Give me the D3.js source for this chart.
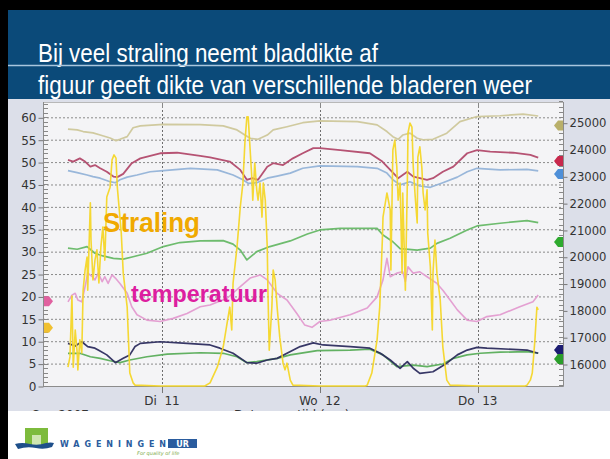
<!DOCTYPE html>
<html>
<head>
<meta charset="utf-8">
<script src="https://cdn.jsdelivr.net/npm/d3@7"></script>
<style>
  html, body { margin: 0; padding: 0; background: #fff; overflow: hidden; }
  svg { display: block; }
</style>
</head>
<body>
<svg id="chart" width="610" height="459"></svg>
<script>
// ---------- data (time in hours from Ma 10 sep 00:00) ----------
const dayTickHours = [24, 48, 72];
const dayTickNames = ["Di", "Wo", "Do"];
const dayTickDates = ["11", "12", "13"];

const leftTicks = [0, 5, 10, 15, 20, 25, 30, 35, 40, 45, 50, 55, 60];
const rightTicks = [16000, 17000, 18000, 19000, 20000, 21000, 22000, 23000, 24000, 25000];

// leaf thickness sensors (right axis)
const bladOlijf = [[9.7,24760],[11.1,24730],[12.0,24670],[13.5,24620],[14.6,24540],[16.1,24430],[17.0,24330],[17.6,24380],[18.7,24480],[19.6,24810],[20.7,24880],[24.2,24940],[29.8,24930],[33.3,24880],[35.4,24730],[36.6,24540],[37.4,24420],[38.6,24380],[40.0,24540],[40.9,24730],[43.0,24850],[45.4,25000],[48.0,25070],[53.7,25040],[56.7,24920],[58.2,24670],[59.1,24480],[59.9,24380],[60.6,24540],[61.7,24610],[62.8,24420],[63.7,24360],[65.2,24380],[67.3,24610],[69.3,25040],[71.9,25230],[75.4,25260],[78.9,25320],[81.2,25250]];
const bladRood = [[9.7,23610],[10.5,23550],[11.5,23670],[12.3,23550],[13.1,23360],[13.8,23420],[14.6,23300],[15.6,23170],[16.6,22990],[17.2,22970],[18.1,23090],[19.4,23490],[20.7,23670],[23.7,23860],[26.3,23880],[29.8,23760],[31.3,23710],[34.3,23550],[35.9,23240],[36.9,22870],[37.7,22930],[38.6,22870],[40.0,23360],[40.9,23490],[42.4,23420],[43.9,23670],[45.4,23860],[47.0,24050],[48.0,24050],[51.1,23980],[55.6,23860],[57.5,23550],[58.7,23240],[59.9,22930],[61.3,23170],[62.2,22990],[63.2,22930],[64.3,22870],[65.2,22930],[66.7,23170],[68.3,23360],[70.4,23860],[71.9,23980],[73.9,23920],[77.4,23880],[80.0,23800],[81.2,23700]];
const bladBlauw = [[9.7,23210],[11.1,23140],[12.6,23050],[13.5,22990],[14.6,22930],[16.1,22800],[16.9,22760],[17.6,22870],[18.7,22970],[20.2,23050],[22.2,23170],[24.2,23210],[28.3,23300],[32.4,23240],[34.8,23050],[36.3,22870],[37.1,22740],[38.4,22760],[40.0,22930],[41.5,23010],[43.5,23120],[45.4,23300],[48.0,23390],[53.7,23360],[56.7,23300],[58.2,23120],[59.1,22870],[60.2,22680],[61.7,22800],[63.2,22640],[64.8,22590],[66.7,22760],[68.9,22970],[70.4,23170],[71.9,23300],[75.4,23240],[79.5,23260],[81.2,23200]];
const bladGroen = [[9.7,20320],[11.1,20280],[12.6,20380],[13.8,20130],[15.0,20030],[16.6,19940],[18.1,19910],[19.6,20000],[21.7,20130],[24.2,20380],[26.7,20530],[29.8,20590],[33.3,20600],[34.8,20470],[35.9,20250],[36.9,19880],[38.4,20190],[40.4,20380],[43.5,20590],[46.1,20850],[48.0,21000],[51.1,21060],[56.7,21060],[57.6,20810],[59.1,20560],[60.2,20300],[62.8,20250],[64.8,20320],[65.8,20500],[67.8,20690],[70.4,21000],[71.9,21150],[75.4,21250],[79.5,21350],[81.2,21270]];
const bladDonker = [[9.7,16770],[10.8,16670],[11.8,16830],[12.7,16650],[13.8,16590],[14.3,16520],[15.6,16340],[16.9,16050],[18.1,16210],[19.1,16340],[19.9,16650],[20.7,16770],[23.7,16830],[27.8,16770],[31.3,16710],[32.8,16590],[34.8,16400],[36.9,16050],[38.4,16030],[40.0,16150],[41.5,16210],[43.0,16400],[45.0,16650],[47.0,16790],[48.5,16710],[52.6,16650],[55.6,16590],[57.2,16400],[58.7,16150],[60.2,15840],[61.3,16090],[62.2,15840],[63.2,15650],[65.2,15710],[67.3,16030],[68.9,16340],[70.4,16520],[71.9,16620],[73.4,16590],[79.5,16520],[81.2,16400]];
const bladLaagGroen = [[9.7,16400],[11.5,16400],[13.1,16270],[14.6,16210],[16.1,16120],[17.6,16050],[19.1,16150],[21.7,16270],[24.8,16370],[29.8,16420],[33.3,16400],[35.4,16270],[36.9,16050],[38.4,16090],[41.5,16210],[43.5,16340],[47.6,16500],[52.6,16520],[55.6,16550],[57.6,16340],[59.7,15900],[62.2,15960],[64.3,15900],[66.7,16000],[68.3,16210],[70.4,16340],[72.4,16400],[75.4,16440],[79.5,16460],[81.2,16400]];

// temperature (left axis)
const temperatuur = [[9.7,18.8],[10.3,20.3],[10.8,20.7],[11.2,19.2],[11.8,18.8],[12.3,22.2],[12.7,25.2],[13.4,24.4],[13.8,23.7],[14.3,25.2],[14.9,23.3],[15.3,24.4],[15.8,22.9],[16.4,24.8],[16.9,24.1],[17.6,22.9],[18.7,20.7],[19.4,17.7],[20.2,15.9],[21.7,14.7],[23.7,14.4],[25.7,15.1],[27.8,16.2],[29.8,17.7],[31.3,18.1],[33.9,19.6],[35.9,22.2],[37.4,24.1],[38.9,24.8],[40.0,23.7],[41.5,20.7],[43.0,19.2],[44.5,16.2],[45.7,13.6],[46.8,13.1],[48.0,14.4],[49.5,14.7],[52.6,15.9],[55.2,17.4],[56.7,19.9],[57.6,23.7],[58.2,28.5],[58.7,24.4],[59.7,25.2],[60.6,25.5],[61.0,23.3],[61.4,26.6],[62.2,25.2],[63.2,25.5],[64.3,24.4],[65.8,22.9],[66.7,21.4],[67.8,19.2],[68.9,17.0],[70.4,14.7],[71.9,14.4],[73.4,15.5],[75.4,15.9],[78.4,17.7],[80.4,18.8],[81.2,20.3]];

// radiation (left axis)
const straling = [[9.7,4.2],[10.0,6.5],[10.3,20.1],[10.5,4.2],[10.8,12.5],[11.1,7.4],[11.2,3.6],[11.5,10.3],[11.8,7.4],[12.0,21.4],[12.3,25.9],[12.6,28.8],[12.7,21.4],[13.1,40.9],[13.2,32.6],[13.5,23.7],[13.8,28.1],[14.1,30.4],[14.4,23.0],[14.7,31.0],[15.0,35.5],[15.3,28.1],[15.6,42.2],[16.1,44.4],[16.4,50.5],[16.7,51.6],[17.0,50.9],[17.2,44.4],[17.5,39.3],[17.8,34.2],[18.1,25.2],[18.7,17.6],[19.1,2.9],[19.6,0.7],[19.9,0.2],[23.7,0],[30.5,0],
  [31.3,0.7],[32.4,4.2],[33.3,8.7],[33.9,14.1],[34.3,17.6],[34.6,12.5],[34.8,23.0],[35.4,31.0],[35.9,40.0],[36.3,45.3],[36.6,54.3],[36.9,60.1],[37.1,60.1],[37.4,52.7],[37.7,45.3],[37.8,41.5],[38.1,49.8],[38.4,43.8],[38.6,41.5],[38.9,45.3],[39.2,37.7],[39.4,45.3],[39.7,41.5],[40.0,31.0],[40.1,21.4],[40.3,8.0],[40.7,17.6],[40.9,25.9],[41.2,23.7],[41.5,17.6],[41.9,10.9],[42.4,5.1],[42.7,3.6],[43.0,5.1],[43.5,1.3],[43.9,0.2],[48.0,0],[54.9,0],
  [55.2,0.2],[55.9,2.9],[56.7,10.3],[57.1,17.6],[57.5,32.6],[57.6,37.7],[58.2,43.1],[58.7,39.3],[58.8,25.9],[59.1,52.7],[59.4,54.9],[59.7,48.9],[59.9,41.5],[60.2,45.3],[60.5,25.2],[60.6,43.1],[61.0,21.4],[61.3,45.3],[61.4,56.5],[61.7,58.7],[62.0,57.8],[62.2,48.9],[62.5,42.2],[62.8,36.4],[62.9,51.1],[63.2,53.4],[63.5,48.9],[63.7,43.1],[64.0,39.3],[64.3,43.8],[64.4,34.2],[64.8,26.6],[65.1,12.5],[65.2,25.2],[65.5,32.6],[65.8,25.2],[66.3,19.2],[66.7,8.7],[67.3,1.3],[67.8,0.2],[72.4,0],[79.2,0],
  [79.5,0.2],[80.0,1.3],[80.3,2.9],[80.7,10.3],[81.0,17.6],[81.2,17.0]];

// current-value markers on the axes
const leftMarkerValues = [18.9, 13.0];
const rightMarkerValues = [24900, 23570, 23090, 20550, 16520, 16190];

// ---------- layout ----------
const W = 610, H = 459;
const plot = { left: 43, right: 563, top: 102, bottom: 386 };

const svg = d3.select("#chart");

const x = d3.scaleLinear().domain([5.9, 84.97]).range([plot.left, plot.right]);
const yL = d3.scaleLinear().domain([0, 60]).range([plot.bottom, 117.3]);
const yR = d3.scaleLinear().domain([16000, 25000]).range([364, 122.7]);

// slide background and frame
svg.append("rect").attr("width", W).attr("height", H).attr("fill", "#ffffff");
svg.append("rect").attr("x", 8).attr("y", 10).attr("width", W - 8).attr("height", 90).attr("fill", "#0b4a79");

const titleFont = "'Liberation Sans Narrow', 'Arial Narrow', 'Liberation Sans', sans-serif";
svg.append("text").attr("x", 38).attr("y", 61.5)
  .attr("font-family", titleFont).attr("font-size", 25.5).attr("fill", "#ffffff")
  .attr("textLength", 340).attr("lengthAdjust", "spacingAndGlyphs")
  .text("Bij veel straling neemt bladdikte af");
svg.append("line").attr("x1", 8).attr("x2", W).attr("y1", 65.5).attr("y2", 65.5)
  .attr("stroke", "#a9c6de").attr("stroke-width", 1.3);
svg.append("text").attr("x", 38).attr("y", 94)
  .attr("font-family", titleFont).attr("font-size", 25.5).attr("fill", "#ffffff")
  .attr("textLength", 494).attr("lengthAdjust", "spacingAndGlyphs")
  .text("figuur geeft dikte van verschillende bladeren weer");

// chart panel
svg.append("rect").attr("x", 8).attr("y", 99).attr("width", W - 8).attr("height", 312).attr("fill", "#dcdfe9");
svg.append("rect").attr("x", plot.left).attr("y", plot.top)
  .attr("width", plot.right - plot.left).attr("height", plot.bottom - plot.top)
  .attr("fill", "#f4f4f6");

const g = svg.append("g");

// horizontal grid (left axis)
g.selectAll("line.hgrid").data(leftTicks.filter(d => d > 0)).join("line")
  .attr("class", "hgrid")
  .attr("x1", plot.left).attr("x2", plot.right)
  .attr("y1", d => yL(d) + 0.5).attr("y2", d => yL(d) + 0.5)
  .attr("stroke", "#8a8a8a").attr("stroke-width", 1).attr("stroke-dasharray", "2,2");

// vertical day grid
g.selectAll("line.vgrid").data(dayTickHours).join("line")
  .attr("class", "vgrid")
  .attr("x1", d => Math.round(x(d)) + 0.5).attr("x2", d => Math.round(x(d)) + 0.5)
  .attr("y1", plot.top).attr("y2", plot.bottom)
  .attr("stroke", "#6e6e6e").attr("stroke-width", 1).attr("stroke-dasharray", "2,2");
g.selectAll("line.vtick").data(dayTickHours).join("line")
  .attr("class", "vtick")
  .attr("x1", d => Math.round(x(d)) + 0.5).attr("x2", d => Math.round(x(d)) + 0.5)
  .attr("y1", plot.bottom).attr("y2", plot.bottom + 7)
  .attr("stroke", "#777").attr("stroke-width", 1);
g.selectAll("line.vtopt").data(dayTickHours).join("line")
  .attr("class", "vtopt")
  .attr("x1", d => Math.round(x(d)) + 0.5).attr("x2", d => Math.round(x(d)) + 0.5)
  .attr("y1", plot.top).attr("y2", plot.top + 6)
  .attr("stroke", "#888").attr("stroke-width", 1);

// plot frame
g.append("line").attr("x1", plot.left).attr("x2", plot.right).attr("y1", plot.top + 0.5).attr("y2", plot.top + 0.5)
  .attr("stroke", "#b8b8b8");
g.append("line").attr("x1", plot.left).attr("x2", plot.right + 0.5).attr("y1", plot.bottom + 0.5).attr("y2", plot.bottom + 0.5)
  .attr("stroke", "#8c8c8c");
g.append("line").attr("x1", plot.left + 0.5).attr("x2", plot.left + 0.5).attr("y1", plot.top).attr("y2", plot.bottom + 0.5)
  .attr("stroke", "#8c8c8c");
g.append("line").attr("x1", plot.right + 0.5).attr("x2", plot.right + 0.5).attr("y1", plot.top).attr("y2", plot.bottom + 0.5)
  .attr("stroke", "#8c8c8c");

const tickFont = "'DejaVu Sans', Verdana, sans-serif";

// left axis
const leftAxis = d3.axisLeft(yL).tickValues(leftTicks).tickSize(5).tickPadding(2);
const la = g.append("g").attr("transform", `translate(${plot.left + 0.5},0.5)`).call(leftAxis);
la.select(".domain").remove();
la.selectAll("line").attr("stroke", "#777");
la.selectAll("text").attr("font-family", tickFont).attr("font-size", 12).attr("fill", "#333");
const leftMinor = d3.range(0, 64, 1);
g.selectAll("line.lminor").data(leftMinor).join("line")
  .attr("class", "lminor")
  .attr("x1", plot.left).attr("x2", plot.left + 5)
  .attr("y1", d => Math.round(yL(d)) + 0.5).attr("y2", d => Math.round(yL(d)) + 0.5)
  .attr("stroke", "#888").attr("stroke-width", 1);

// right axis
const rightAxis = d3.axisRight(yR).tickValues(rightTicks).tickSize(4).tickPadding(2).tickFormat(d3.format("d"));
const ra = g.append("g").attr("transform", `translate(${plot.right + 0.5},0.5)`).call(rightAxis);
ra.select(".domain").remove();
ra.selectAll("line").attr("stroke", "#777");
ra.selectAll("text").attr("font-family", tickFont).attr("font-size", 11.6).attr("fill", "#333");
const rightMinor = d3.range(15200, 25801, 200);
g.selectAll("line.rminor").data(rightMinor).join("line")
  .attr("class", "rminor")
  .attr("x1", plot.right - 4).attr("x2", plot.right)
  .attr("y1", d => Math.round(yR(d)) + 0.5).attr("y2", d => Math.round(yR(d)) + 0.5)
  .attr("stroke", "#888").attr("stroke-width", 1);

// day labels
g.selectAll("text.day").data(dayTickHours).join("text")
  .attr("class", "day")
  .attr("x", d => x(d)).attr("y", 405)
  .attr("text-anchor", "middle")
  .attr("font-family", tickFont).attr("font-size", 12).attr("fill", "#333")
  .style("white-space", "pre")
  .text((d, i) => dayTickNames[i] + "  " + dayTickDates[i]);

// second label row (mostly hidden beneath the footer)
g.append("text").attr("x", 32).attr("y", 419).attr("font-family", tickFont).attr("font-size", 12)
  .attr("fill", "#333").text("Sep 2007");
g.append("text").attr("x", 234).attr("y", 419).attr("font-family", tickFont).attr("font-size", 12)
  .attr("fill", "#333").text("Datum en tijd  (uur)");

// series lines
const clip = svg.append("clipPath").attr("id", "plotclip");
clip.append("rect").attr("x", plot.left + 1).attr("y", plot.top + 1)
  .attr("width", plot.right - plot.left - 1).attr("height", plot.bottom - plot.top);

const lines = svg.append("g").attr("clip-path", "url(#plotclip)");
const lineR = d3.line().x(d => x(d[0])).y(d => yR(d[1]));
const lineL = d3.line().x(d => x(d[0])).y(d => yL(d[1]));

const seriesDefs = [
  { data: bladOlijf, line: lineR, color: "#cdc79a", w: 1.7 },
  { data: bladBlauw, line: lineR, color: "#93b3d8", w: 1.7 },
  { data: bladRood, line: lineR, color: "#b24a6c", w: 1.8 },
  { data: bladGroen, line: lineR, color: "#66b866", w: 1.7 },
  { data: temperatuur, line: lineL, color: "#e39bd0", w: 1.6 },
  { data: bladLaagGroen, line: lineR, color: "#5aad5a", w: 1.7 },
  { data: bladDonker, line: lineR, color: "#2c2c5e", w: 1.7 },
  { data: straling, line: lineL, color: "#f4d628", w: 1.6 }
];
lines.selectAll("path.series").data(seriesDefs).join("path")
  .attr("class", "series")
  .attr("d", d => d.line(d.data))
  .attr("fill", "none")
  .attr("stroke", d => d.color)
  .attr("stroke-width", d => d.w)
  .attr("stroke-linejoin", "round")
  .attr("opacity", 0.95);

// axis markers
const leftMarkerColors = ["#e0609f", "#f0c030"];
const rightMarkerColors = ["#b9b06a", "#c8284c", "#4e8fd8", "#2eaa2e", "#1c1c72", "#2a9d2a"];
g.selectAll("path.lmark").data(leftMarkerValues).join("path")
  .attr("class", "lmark")
  .attr("transform", d => `translate(${plot.left + 1},${yL(d)})`)
  .attr("d", "M0,-5 L5,-5 L9,0 L5,5 L0,5 Z")
  .attr("fill", (d, i) => leftMarkerColors[i]);
g.selectAll("path.rmark").data(rightMarkerValues).join("path")
  .attr("class", "rmark")
  .attr("transform", d => `translate(${plot.right},${yR(d)})`)
  .attr("d", "M0,-5 L-5,-5 L-9,0 L-5,5 L0,5 Z")
  .attr("fill", (d, i) => rightMarkerColors[i]);

// annotations
svg.append("text").attr("x", 103).attr("y", 232)
  .attr("font-family", "'Liberation Sans', Arial, sans-serif").attr("font-weight", "bold")
  .attr("font-size", 27).attr("fill", "#f0a900")
  .attr("textLength", 97).attr("lengthAdjust", "spacingAndGlyphs")
  .text("Straling");
svg.append("text").attr("x", 131).attr("y", 301.5)
  .attr("font-family", "'Liberation Sans', Arial, sans-serif").attr("font-weight", "bold")
  .attr("font-size", 23).attr("fill", "#dd1ea0")
  .attr("textLength", 136).attr("lengthAdjust", "spacingAndGlyphs")
  .text("temperatuur");

// footer
svg.append("rect").attr("x", 8).attr("y", 411).attr("width", W - 8).attr("height", H - 411).attr("fill", "#ffffff");

// left/top black border
svg.append("rect").attr("x", 0).attr("y", 0).attr("width", W).attr("height", 10).attr("fill", "#000");
svg.append("rect").attr("x", 0).attr("y", 0).attr("width", 8).attr("height", H).attr("fill", "#000");

// Wageningen UR logo
const logo = svg.append("g");
logo.append("path")
  .attr("d", "M25,428 L48,428 L48,445 L41,445 L41,435 L32,435 L32,445 L25,445 Z")
  .attr("fill", "#7dbb3c");
logo.append("rect").attr("x", 32).attr("y", 435).attr("width", 9).attr("height", 10).attr("fill", "#cfe6b0");
logo.append("path")
  .attr("d", "M15,444 Q22,442 30,444 Q38,446 46,443 Q51,442 54,443 L52,447 Q44,450 36,448 Q27,446 18,449 Z")
  .attr("fill", "#1e4f8a");
logo.append("text").attr("x", 60).attr("y", 447)
  .attr("font-family", "'DejaVu Sans', sans-serif").attr("font-weight", "bold").attr("font-size", 8)
  .attr("fill", "#2a5c9e").attr("textLength", 106).attr("lengthAdjust", "spacing")
  .text("WAGENINGEN");
logo.append("rect").attr("x", 168).attr("y", 439).attr("width", 29).attr("height", 9).attr("fill", "#2a5c9e");
logo.append("text").attr("x", 182.5).attr("y", 446.8).attr("text-anchor", "middle")
  .attr("font-family", "'DejaVu Sans', sans-serif").attr("font-weight", "bold").attr("font-size", 8)
  .attr("fill", "#ffffff").text("UR");
logo.append("text").attr("x", 137).attr("y", 455)
  .attr("font-family", "'DejaVu Sans', sans-serif").attr("font-style", "italic").attr("font-size", 5)
  .attr("fill", "#7dab4a").text("For quality of life");
</script>
</body>
</html>
